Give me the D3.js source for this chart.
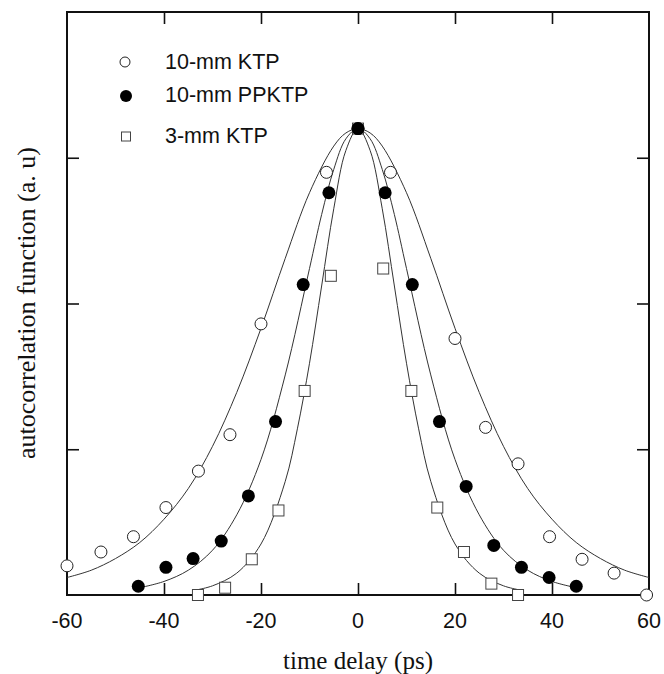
<!DOCTYPE html>
<html lang="en"><head>
<meta charset="utf-8">
<title>autocorrelation</title>
<script src="https://cdnjs.cloudflare.com/ajax/libs/d3/7.8.5/d3.min.js"></script>
<style>
  body{ margin:0; background:#fff; }
  .tick-text{ font-family:"Liberation Sans", Arial, sans-serif; font-size:21.5px; fill:#111; }
  .legend-text{ font-family:"Liberation Sans", Arial, sans-serif; font-size:21.5px; fill:#111; }
  .axis-title{ font-family:"Liberation Serif", "Times New Roman", serif; font-size:25px; fill:#111; }
  .fit{ fill:none; stroke:#333; stroke-width:1; }
</style>
</head>
<body>
<svg class="chart" width="664" height="674"></svg>
<script>
// measured points, time delay (ps) / autocorrelation (a.u.)
var ktp10X   = [-60, -53, -46.3, -39.6, -32.9, -26.4, -20, -6.5, 0, 6.7, 20, 26.3, 33, 39.5, 46.2, 52.8, 59.5]
var ktp10Y   = [0.20, 0.295, 0.40, 0.60, 0.85, 1.10, 1.86, 2.90, 3.2, 2.90, 1.76, 1.15, 0.90, 0.40, 0.245, 0.15, 0.0]
var ppktpX   = [-45.3, -39.6, -34, -28.2, -22.6, -17, -11.3, -6, 0, 5.6, 11.2, 16.8, 22.3, 28, 33.7, 39.4, 45]
var ppktpY   = [0.06, 0.19, 0.25, 0.37, 0.68, 1.19, 2.13, 2.76, 3.2, 2.76, 2.13, 1.19, 0.745, 0.34, 0.19, 0.12, 0.06]
var ktp3X    = [-33, -27.4, -21.9, -16.4, -11, -5.6, 0, 5.2, 11, 16.35, 21.85, 27.5, 33]
var ktp3Y    = [0.0, 0.05, 0.245, 0.58, 1.40, 2.19, 3.2, 2.24, 1.40, 0.60, 0.295, 0.078, 0.0]

// fitted curves
var fitWideX   = [-60, -55, -50, -45, -40, -35, -30, -25, -20, -15, -10, -5, -2.5, 0, 2.5, 5, 10, 15, 20, 25, 30, 35, 40, 45, 50, 55, 60]
var fitWideY   = [0.12, 0.17, 0.25, 0.36, 0.52, 0.73, 1.02, 1.39, 1.83, 2.31, 2.76, 3.08, 3.17, 3.2, 3.17, 3.08, 2.76, 2.31, 1.83, 1.39, 1.02, 0.73, 0.52, 0.36, 0.25, 0.17, 0.12]
var fitMidX    = [-45, -40, -35, -30, -25, -20, -15, -10, -7.5, -5, -2.5, 0, 2.5, 5, 7.5, 10, 15, 20, 25, 30, 35, 40, 45]
var fitMidY    = [0.05, 0.093, 0.17, 0.307, 0.55, 0.93, 1.51, 2.24, 2.61, 2.92, 3.13, 3.2, 3.13, 2.92, 2.61, 2.24, 1.51, 0.93, 0.55, 0.307, 0.17, 0.093, 0.05]
var fitNarrowX = [-33, -30, -25, -20, -15, -12.5, -10, -7.5, -5, -2.5, 0, 2.5, 5, 7.5, 10, 12.5, 15, 20, 25, 30, 33]
var fitNarrowY = [0.037, 0.063, 0.15, 0.35, 0.78, 1.14, 1.59, 2.12, 2.65, 3.05, 3.2, 3.05, 2.65, 2.12, 1.59, 1.14, 0.78, 0.35, 0.15, 0.063, 0.037]

var xTicks = [-60, -40, -20, 0, 20, 40, 60]
var yTicks = [1, 2, 3]
var legendNames = ["10-mm KTP", "10-mm PPKTP", "3-mm KTP"]

var plotLeft = 67, plotRight = 649, plotTop = 12, plotBottom = 595

var svg = d3.select('.chart')
var x = d3.scaleLinear().domain([-60, 60]).range([plotLeft, plotRight])
var y = d3.scaleLinear().domain([0, 4]).range([plotBottom, plotTop])

function zip(a, b) { return a.map(function(d, i) { return [d, b[i]] }) }

// ticks, pointing inward on all sides
var inner = xTicks.slice(1, -1)
svg.append("g").attr("transform", "translate(0," + plotBottom + ")")
  .call(d3.axisBottom(x).tickValues(inner).tickSizeInner(-12).tickSizeOuter(0).tickFormat(""))
svg.append("g").attr("transform", "translate(0," + plotTop + ")")
  .call(d3.axisTop(x).tickValues(inner).tickSizeInner(-12).tickSizeOuter(0).tickFormat(""))
svg.append("g").attr("transform", "translate(" + plotLeft + ",0)")
  .call(d3.axisLeft(y).tickValues(yTicks).tickSizeInner(-12).tickSizeOuter(0).tickFormat(""))
svg.append("g").attr("transform", "translate(" + plotRight + ",0)")
  .call(d3.axisRight(y).tickValues(yTicks).tickSizeInner(-12).tickSizeOuter(0).tickFormat(""))
svg.selectAll(".domain").remove()
svg.selectAll(".tick line").attr("stroke", "#111").attr("stroke-width", 1.6)

svg.append("rect")
  .attr("x", plotLeft).attr("y", plotTop)
  .attr("width", plotRight - plotLeft).attr("height", plotBottom - plotTop)
  .attr("fill", "none").attr("stroke", "#111").attr("stroke-width", 2)

svg.selectAll(".xlab").data(xTicks).enter().append("text")
  .attr("class", "tick-text")
  .attr("x", function(d) { return x(d) })
  .attr("y", 628)
  .attr("text-anchor", "middle")
  .text(function(d) { return String(d) })

// fits
var line = d3.line()
  .x(function(d) { return x(d[0]) })
  .y(function(d) { return y(d[1]) })
  .curve(d3.curveCatmullRom.alpha(0.5))

svg.append("path").attr("class", "fit").attr("d", line(zip(fitWideX, fitWideY)))
svg.append("path").attr("class", "fit").attr("d", line(zip(fitMidX, fitMidY)))
svg.append("path").attr("class", "fit").attr("d", line(zip(fitNarrowX, fitNarrowY)))

// markers
svg.selectAll(".sq").data(zip(ktp3X, ktp3Y)).enter().append("rect")
  .attr("x", function(d) { return x(d[0]) - 5.5 })
  .attr("y", function(d) { return y(d[1]) - 5.5 })
  .attr("width", 11).attr("height", 11)
  .attr("fill", "#fff").attr("stroke", "#444").attr("stroke-width", 1)

svg.selectAll(".open").data(zip(ktp10X, ktp10Y)).enter().append("circle")
  .attr("cx", function(d) { return x(d[0]) })
  .attr("cy", function(d) { return y(d[1]) })
  .attr("r", 6)
  .attr("fill", "#fff").attr("stroke", "#222").attr("stroke-width", 1)

svg.selectAll(".fill").data(zip(ppktpX, ppktpY)).enter().append("circle")
  .attr("cx", function(d) { return x(d[0]) })
  .attr("cy", function(d) { return y(d[1]) })
  .attr("r", 6.5)
  .attr("fill", "#000")

// legend
svg.append("circle").attr("cx", 125).attr("cy", 62).attr("r", 5)
  .attr("fill", "#fff").attr("stroke", "#222").attr("stroke-width", 1)
svg.append("circle").attr("cx", 126).attr("cy", 96).attr("r", 6)
  .attr("fill", "#000")
svg.append("rect").attr("x", 121.5).attr("y", 132).attr("width", 9).attr("height", 9)
  .attr("fill", "#fff").attr("stroke", "#444").attr("stroke-width", 1)

svg.selectAll(".leg").data(legendNames).enter().append("text")
  .attr("class", "legend-text")
  .attr("x", 165)
  .attr("y", function(d, i) { return [69, 102, 143][i] })
  .text(function(d) { return d })

// axis titles
svg.append("text").attr("class", "axis-title")
  .attr("x", 358).attr("y", 669)
  .attr("text-anchor", "middle")
  .text("time delay (ps)")

svg.append("text").attr("class", "axis-title")
  .attr("transform", "translate(35,303) rotate(-90)")
  .attr("text-anchor", "middle")
  .style("font-size", "26px")
  .text("autocorrelation function (a. u)")
</script>
</body></html>
